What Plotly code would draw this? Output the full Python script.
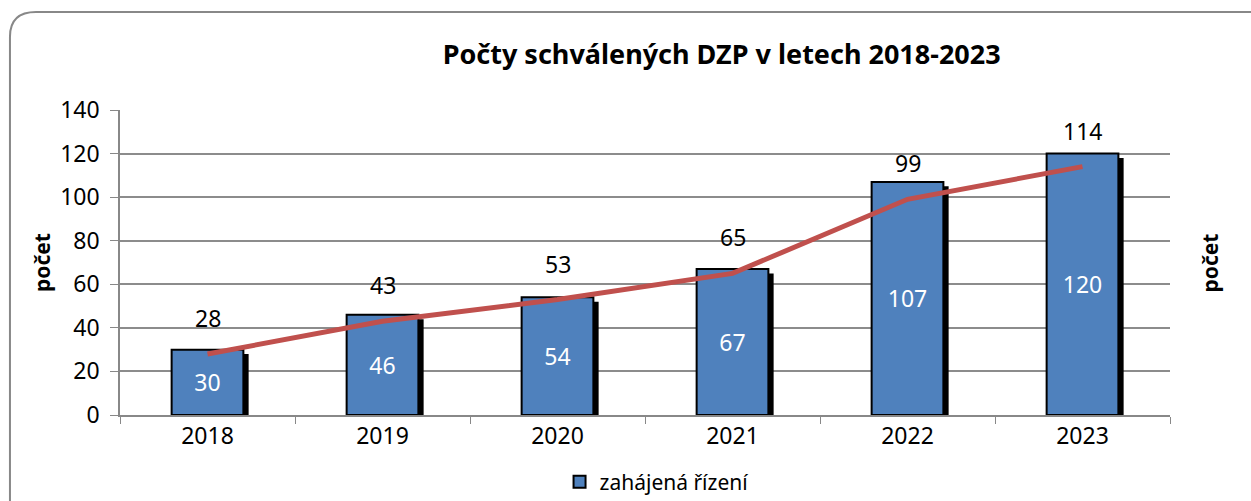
import plotly.graph_objects as go

years = ["2018", "2019", "2020", "2021", "2022", "2023"]
zahajena = [30, 46, 54, 67, 107, 120]
schvalene = [28, 43, 53, 65, 99, 114]

title_text = "Počty schválených DZP v letech 2018-2023"
bar_name = "zahájená řízení"
axis_title = "počet"

FONT = "Noto Sans"
BAR_W = 0.41
SHADOW_DX = 0.03

fig = go.Figure()

# shadow of bars
fig.add_trace(go.Bar(
    x=years, y=[v - 2 for v in zahajena], width=BAR_W, offset=-BAR_W / 2 + SHADOW_DX,
    marker=dict(color="black", line=dict(width=0)), showlegend=False, hoverinfo="skip",
))
# main bars
fig.add_trace(go.Bar(
    x=years, y=zahajena, width=BAR_W, offset=-BAR_W / 2, name=bar_name,
    marker=dict(color="#4F81BD", line=dict(color="black", width=2)),
    text=[str(v) for v in zahajena], textposition="inside", insidetextanchor="middle",
    textfont=dict(color="white", size=23, family=FONT), textangle=0,
))
# line
fig.add_trace(go.Scatter(
    x=years, y=schvalene, mode="lines", line=dict(color="#C0504D", width=5),
    showlegend=False,
))

annotations = []
for i, v in enumerate(schvalene):
    annotations.append(dict(x=i, y=v, xref="x", yref="y", text=str(v), showarrow=False, yshift=36,
                            font=dict(size=23, color="black", family=FONT)))
annotations.append(dict(x=1.038, y=0.5, xref="paper", yref="paper", xanchor="center", yanchor="middle",
                        text=f"<b>{axis_title}</b>", textangle=-90, showarrow=False,
                        font=dict(size=21, color="black", family=FONT)))

fig.update_layout(
    width=1251, height=501,
    margin=dict(l=120, r=81, t=110, b=86, autoexpand=False),
    paper_bgcolor="white", plot_bgcolor="white",
    barmode="overlay",
    font=dict(family=FONT, size=23, color="black"),
    title=dict(text=f"<b>{title_text}</b>", x=0.573, xref="paper", xanchor="center",
               y=1 - 55 / 501, yanchor="middle", font=dict(size=27, family=FONT, color="black")),
    showlegend=True,
    legend=dict(orientation="h", x=0.511, xanchor="center", y=-0.22, yanchor="middle",
                font=dict(size=21, family=FONT), bgcolor="rgba(0,0,0,0)"),
    annotations=annotations,
    shapes=[dict(type="path", xref="paper", yref="paper", layer="below",
                 path="M -0.1048,-0.4 L -0.1048,1.24 Q -0.1048,1.321 -0.08,1.321 L 1.2,1.321",
                 line=dict(color="#888888", width=2))],
)

fig.update_xaxes(
    type="category", range=[-0.5, 5.5], showline=True, linecolor="#888888", linewidth=1.5,
    ticks="outside", tickson="boundaries", ticklen=7, tickcolor="#888888",
    showgrid=False, tickfont=dict(size=23, family=FONT), automargin=False,
)
fig.update_yaxes(
    range=[0, 140], dtick=20, showline=True, linecolor="#888888", linewidth=1.5,
    ticks="outside", ticklen=8, tickcolor="#888888", ticklabelstandoff=6,
    showgrid=True, gridcolor="#8c8c8c", gridwidth=1.5, zeroline=False,
    tickfont=dict(size=23, family=FONT), automargin=False,
    title=dict(text=f"<b>{axis_title}</b>", font=dict(size=21, family=FONT), standoff=4),
)

fig.write_html("out.html", config={"displayModeBar": False},
               post_script="document.body.style.margin='0';")
